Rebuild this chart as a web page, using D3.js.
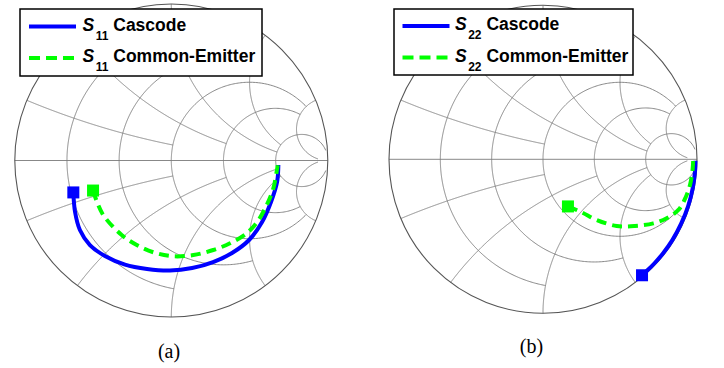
<!DOCTYPE html>
<html>
<head>
<meta charset="utf-8">
<script src="https://cdn.jsdelivr.net/npm/d3@7"></script>
<style>
  body { margin: 0; background: #fff; }
  svg { display: block; }
</style>
</head>
<body>
<svg id="chart" width="724" height="368"></svg>
<script>
// grid values, same layout as matlab smithchart: value -> how far it is drawn
const gridValues = [0.2, 0.5, 1, 2, 5];
const gridLimits = [1, 2, 5, 5, 30];

// reflection coefficients, [re, im]
const s11Cascode = [[-0.626, -0.204], [-0.615, -0.329], [-0.584, -0.444], [-0.520, -0.540], [-0.424, -0.610],
    [-0.296, -0.665], [-0.155, -0.693], [-0.008, -0.703], [0.133, -0.687], [0.267, -0.649],
    [0.388, -0.591], [0.497, -0.508], [0.580, -0.393], [0.637, -0.265], [0.676, -0.137], [0.684, -0.029]];
const s11CE = [[-0.500, -0.192], [-0.440, -0.340], [-0.317, -0.476], [-0.200, -0.551], [-0.093, -0.593],
    [0.013, -0.612], [0.141, -0.604], [0.268, -0.572], [0.375, -0.529], [0.482, -0.465],
    [0.550, -0.391], [0.610, -0.284], [0.652, -0.178], [0.673, -0.072], [0.680, -0.030]];
const s22Cascode = [[0.643, -0.753], [0.675, -0.724], [0.724, -0.675], [0.780, -0.610], [0.840, -0.525],
    [0.897, -0.418], [0.942, -0.306], [0.972, -0.189], [0.988, -0.069], [0.990, -0.010]];
const s22CE = [[0.162, -0.306], [0.251, -0.344], [0.349, -0.394], [0.479, -0.433], [0.597, -0.433],
    [0.716, -0.416], [0.803, -0.383], [0.879, -0.329], [0.925, -0.250], [0.955, -0.165],
    [0.972, -0.060], [0.975, -0.010]];

const panels = [
    {cx: 171.3, cy: 160.5, R: 156.5, sub: "11", a: s11Cascode, b: s11CE, caption: "(a)", capX: 169, capY: 358,
     legend: {x: 20, y: 9, w: 242, h: 67, lx: 29, tx: 82.5, y1: 26.5, y2: 58}},
    {cx: 543, cy: 159.3, R: 154, sub: "22", a: s22Cascode, b: s22CE, caption: "(b)", capX: 531.5, capY: 353,
     legend: {x: 394, y: 9, w: 239, h: 66, lx: 402.5, tx: 455, y1: 26, y2: 57.5}}
];

const svg = d3.select("#chart");

// normalized impedance -> reflection coefficient
function gamma(r, x) {
    const den = (r + 1) * (r + 1) + x * x;
    return [(r * r + x * x - 1) / den, (2 * x) / den];
}

function drawPanel(p) {
    const xs = d3.scaleLinear().domain([-1, 1]).range([p.cx - p.R, p.cx + p.R]);
    const ys = d3.scaleLinear().domain([-1, 1]).range([p.cy + p.R, p.cy - p.R]);
    const line = d3.line().x(d => xs(d[0])).y(d => ys(d[1]));
    const g = svg.append("g");
    const grid = g.append("g").attr("fill", "none").attr("stroke", "#7a7a7a").attr("stroke-width", 0.9);

    const steps = d3.range(0, 1.0001, 1 / 400);

    gridValues.forEach((v, i) => {
        const lim = gridLimits[i];
        // resistance circle r = v, |x| <= lim
        const smax = lim / (1 + lim);
        const rpts = steps.map(t => {
            const s = -smax + 2 * smax * t;
            return gamma(v, s / (1 - Math.abs(s)));
        });
        grid.append("path").attr("d", line(rpts));
        // reactance arcs x = +-v, r <= lim
        [1, -1].forEach(sg => {
            const xpts = steps.map(t => {
                const tt = t * smax;
                return gamma(tt / (1 - tt), sg * v);
            });
            grid.append("path").attr("d", line(xpts));
        });
    });

    grid.append("line")
        .attr("x1", xs(-1)).attr("x2", xs(1))
        .attr("y1", ys(0)).attr("y2", ys(0));

    g.append("circle")
        .attr("cx", xs(0)).attr("cy", ys(0)).attr("r", p.R)
        .attr("fill", "none").attr("stroke", "#555").attr("stroke-width", 1.1);

    // data curves
    const curve = d3.line().x(d => xs(d[0])).y(d => ys(d[1])).curve(d3.curveCatmullRom.alpha(0.5));
    g.append("path").attr("d", curve(p.a))
        .attr("fill", "none").attr("stroke", "#0000ff").attr("stroke-width", 4);
    g.append("path").attr("d", curve(p.b))
        .attr("fill", "none").attr("stroke", "#00ff00").attr("stroke-width", 4)
        .attr("stroke-dasharray", "10,6");

    [[p.a[0], "#0000ff"], [p.b[0], "#00ff00"]].forEach(m => {
        g.append("rect")
            .attr("x", xs(m[0][0]) - 6).attr("y", ys(m[0][1]) - 6)
            .attr("width", 12).attr("height", 12)
            .attr("fill", m[1]);
    });

    // legend
    const L = p.legend;
    const lg = g.append("g");
    lg.append("rect")
        .attr("x", L.x).attr("y", L.y).attr("width", L.w).attr("height", L.h)
        .attr("fill", "#fff").attr("stroke", "#000").attr("stroke-width", 1.5);
    const rows = [
        {y: L.y1, color: "#0000ff", dash: null, label: " Cascode"},
        {y: L.y2, color: "#00ff00", dash: "11,6", label: " Common-Emitter"}
    ];
    rows.forEach(r => {
        lg.append("line")
            .attr("x1", L.lx).attr("x2", L.lx + 47)
            .attr("y1", r.y).attr("y2", r.y)
            .attr("stroke", r.color).attr("stroke-width", 4)
            .attr("stroke-dasharray", r.dash);
        const t = lg.append("text")
            .attr("x", L.tx).attr("y", r.y + 4)
            .style("font-family", "'Liberation Sans', Arial, sans-serif")
            .style("font-weight", "bold")
            .style("font-size", "17.5px");
        t.append("tspan").style("font-style", "italic").text("S");
        t.append("tspan").attr("dx", 1.5).attr("dy", 9).style("font-size", "12px").text(p.sub);
        t.append("tspan").attr("dy", -9).text(r.label);
    });

    svg.append("text")
        .attr("x", p.capX).attr("y", p.capY)
        .attr("text-anchor", "middle")
        .style("font-family", "'Liberation Serif', 'Times New Roman', serif")
        .style("font-size", "20px")
        .text(p.caption);
}

panels.forEach(drawPanel);
</script>
</body>
</html>
